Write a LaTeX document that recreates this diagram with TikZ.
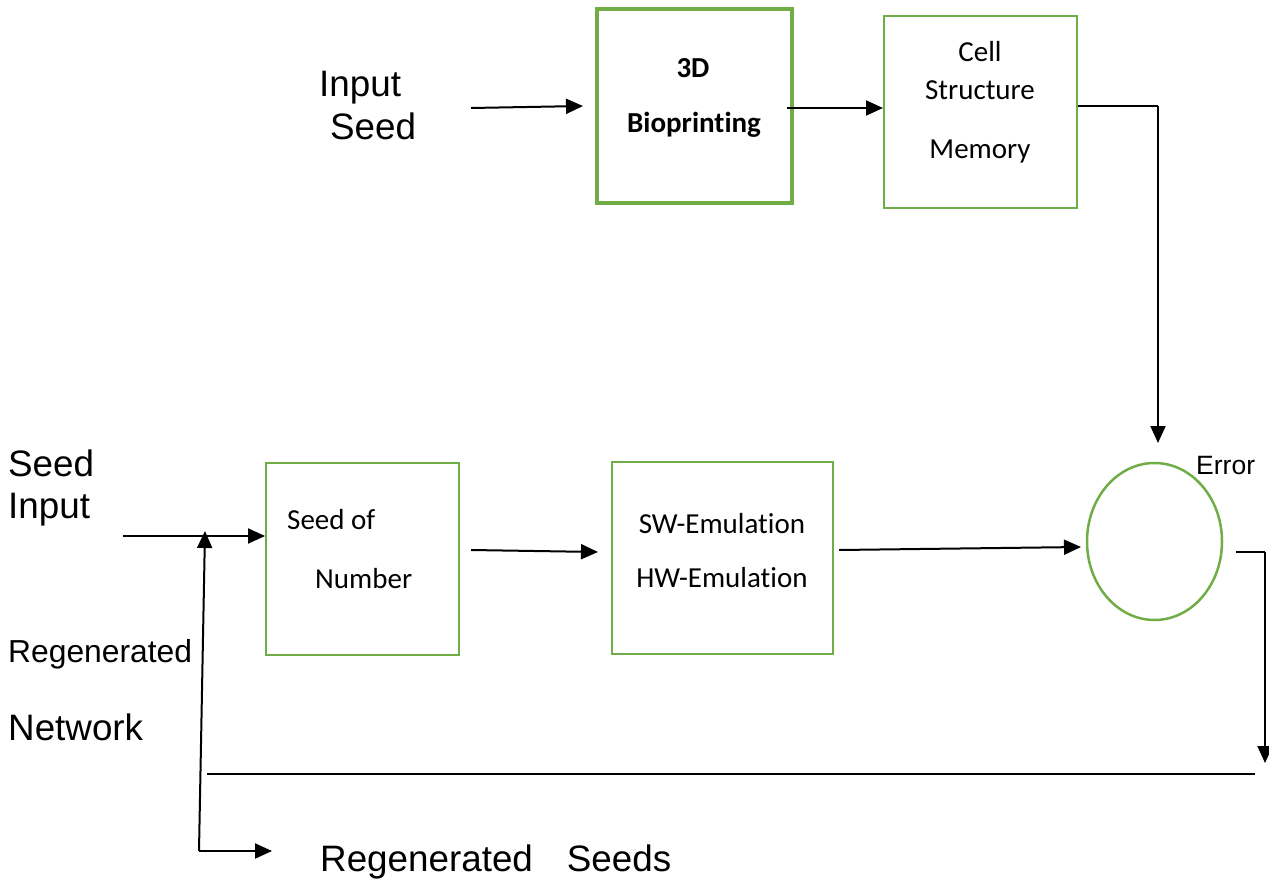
\documentclass[tikz,border=0pt]{standalone}
\usepackage{fontspec}
\setmainfont{Liberation Sans}
\newfontfamily\calibrifont[Ligatures=NoCommon]{Carlito}
\usetikzlibrary{arrows.meta,shapes.geometric}
\definecolor{boxgreen}{HTML}{70AD47}
\tikzset{
  box/.style={draw=boxgreen, line width=2pt, inner sep=0pt},
  lbl/.style={anchor=base west, inner sep=0pt, font=\fontsize{36.8}{40}\selectfont},
  btxt/.style={anchor=base, inner sep=0pt, font=\calibrifont\fontsize{29}{32}\selectfont},
  arr/.style={line width=2pt, -{Triangle[length=17pt,width=15pt]}},
  ln/.style={line width=1.6pt},
}
\begin{document}
\begin{tikzpicture}[x=1pt,y=-1pt]
\useasboundingbox (0,0) rectangle (1269,880);
% boxes
\node[box, line width=4pt, minimum width=195pt, minimum height=194pt] (bio) at (694.5,106) {};
\node[box, minimum width=193pt, minimum height=192pt] (cell) at (980.5,112) {};
\node[box, minimum width=193pt, minimum height=192pt] (seed) at (362.5,559) {};
\node[box, minimum width=221pt, minimum height=192pt] (sw) at (722.5,558) {};
\node[box, line width=2.5pt, ellipse, minimum width=135pt, minimum height=157pt] (err) at (1154.5,541.5) {};
% box texts
\node[btxt, font=\calibrifont\bfseries\fontsize{29}{32}\selectfont] (t3d) at (693,78) {3D};
\node[btxt, font=\calibrifont\bfseries\fontsize{29}{32}\selectfont] (tbio) at (694,133) {Bioprinting};
\node[btxt] (tcell) at (980,62) {Cell};
\node[btxt] (tstruct) at (980,100) {Structure};
\node[btxt] (tmem) at (980,158) {Memory};
\node[btxt, anchor=base west] (tseedof) at (287,529) {Seed of};
\node[btxt, anchor=base west] (tnum) at (315,588) {Number};
\node[btxt] (tsw) at (722,533) {SW-Emulation};
\node[btxt] (thw) at (722,587) {HW-Emulation};
% outer labels
\node[lbl] (linput) at (319,97) {Input};
\node[lbl] (lseed) at (330,140) {Seed};
\node[lbl] (lseed2) at (8,476) {Seed};
\node[lbl] (linput2) at (8,518) {Input};
\node[lbl, font=\fontsize{31.8}{34}\selectfont] (lregen) at (8,662) {Regenerated};
\node[lbl, font=\fontsize{36.8}{40}\selectfont] (lnet) at (8,740) {Network};
\node[lbl] (lregseeds) at (320,871) {Regenerated\hspace{34pt}Seeds};
\node[lbl, font=\fontsize{26.5}{30}\selectfont] (lerror) at (1196,474) {Error};
% coordinates
\coordinate (inS) at (471,108);
\coordinate (bioO) at (787,108);
\coordinate (cellC) at (1158,106);
\coordinate (errT) at (1158,443);
\coordinate (swO) at (839,550);
\coordinate (errW) at (1081,547);
\coordinate (errO) at (1236,552);
\coordinate (rC) at (1265,552);
\coordinate (rD) at (1265,763);
\coordinate (hL) at (207,774);
\coordinate (hR) at (1255,774);
\coordinate (sIn) at (123,536);
\coordinate (sJ) at (205,531);
\coordinate (vB) at (199,851);
\coordinate (vE) at (272,851);
\coordinate (seedO) at (471,550);
\coordinate (swI) at (598,552);
\coordinate (bioI) at (583,106);
% connectors
\draw[arr] (inS) -- (bioI);
\draw[arr] (bioO) -- (cell.west |- bioO);
\draw[ln] (cell.east |- cellC) -- (cellC);
\draw[arr] (cellC) -- (errT);
\draw[arr] (seedO) -- (swI);
\draw[arr] (swO) -- (errW);
\draw[ln] (errO) -- (rC);
\draw[arr] (rC) -- (rD);
\draw[ln] (hL) -- (hR);
\draw[arr] (sIn) -- (seed.west |- sIn);
\draw[arr] (vB) -- (sJ);
\draw[arr] (vB) -- (vE);
\end{tikzpicture}
\end{document}
